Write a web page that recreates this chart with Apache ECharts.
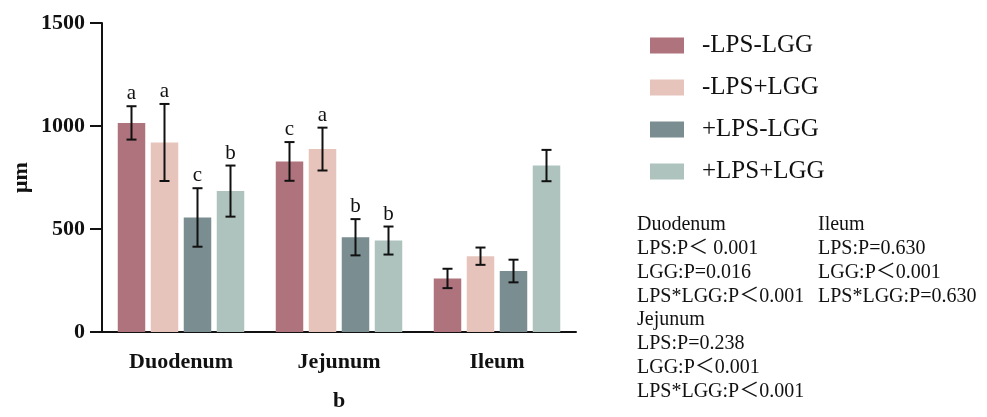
<!DOCTYPE html>
<html>
<head>
    <meta charset="utf-8">
    <title>Villus height</title>
    <script src="https://cdn.jsdelivr.net/npm/echarts@6/dist/echarts.min.js"></script>
    <style>
        html, body { margin: 0; padding: 0; background: #fff; }
        #main { width: 987px; height: 417px; }
    </style>
</head>
<body>
    <div id="main"></div>
    <script type="text/javascript">
        // data
        var categories = ['Duodenum', 'Jejunum', 'Ileum'];
        var groupNames = ['-LPS-LGG', '-LPS+LGG', '+LPS-LGG', '+LPS+LGG'];

        var meanNegLpsNegLgg = [1015, 828, 260];
        var meanNegLpsPosLgg = [920, 888, 368];
        var meanPosLpsNegLgg = [556, 460, 296];
        var meanPosLpsPosLgg = [684, 444, 808];

        var sdNegLpsNegLgg = [81, 94, 47];
        var sdNegLpsPosLgg = [187, 104, 42];
        var sdPosLpsNegLgg = [142, 88, 55];
        var sdPosLpsPosLgg = [124, 68, 76];

        var lettersNegLpsNegLgg = ['a', 'c', ''];
        var lettersNegLpsPosLgg = ['a', 'a', ''];
        var lettersPosLpsNegLgg = ['c', 'b', ''];
        var lettersPosLpsPosLgg = ['b', 'b', ''];

        var yTicks = [0, 500, 1000, 1500];

        var statsLeft = ['Duodenum', 'LPS:P\uFF1C 0.001', 'LGG:P=0.016', 'LPS*LGG:P\uFF1C0.001',
            'Jejunum', 'LPS:P=0.238', 'LGG:P\uFF1C0.001', 'LPS*LGG:P\uFF1C0.001'];
        var statsRight = ['Ileum', 'LPS:P=0.630', 'LGG:P\uFF1C0.001', 'LPS*LGG:P=0.630'];

        var means = [meanNegLpsNegLgg, meanNegLpsPosLgg, meanPosLpsNegLgg, meanPosLpsPosLgg];
        var sds = [sdNegLpsNegLgg, sdNegLpsPosLgg, sdPosLpsNegLgg, sdPosLpsPosLgg];
        var letters = [lettersNegLpsNegLgg, lettersNegLpsPosLgg, lettersPosLpsNegLgg, lettersPosLpsPosLgg];
        var colors = ['#AE737D', '#E6C4BB', '#7A8D90', '#AEC3BD'];

        var FONT = "'Liberation Serif', 'Noto Sans CJK SC', serif";
        var BAR_W = 27.5;
        var BAR_GAP = 0.2;

        var myChart = echarts.init(document.getElementById('main'), null, { renderer: 'canvas' });

        function errorRenderer(k) {
            var offset = (k - 1.5) * BAR_W * (1 + BAR_GAP);
            return function (params, api) {
                var ci = api.value(0);
                var m = api.value(1);
                var s = api.value(2);
                var hi = api.coord([ci, m + s]);
                var lo = api.coord([ci, m - s]);
                var cx = hi[0] + offset;
                var lineStyle = { stroke: '#111', lineWidth: 2 };
                var kids = [
                    { type: 'line', shape: { x1: cx, y1: hi[1], x2: cx, y2: lo[1] }, style: lineStyle },
                    { type: 'line', shape: { x1: cx - 5, y1: hi[1], x2: cx + 5, y2: hi[1] }, style: lineStyle },
                    { type: 'line', shape: { x1: cx - 5, y1: lo[1], x2: cx + 5, y2: lo[1] }, style: lineStyle }
                ];
                var letter = letters[k][params.dataIndex];
                if (letter) {
                    kids.push({
                        type: 'text',
                        style: {
                            text: letter, x: cx, y: hi[1] - 2,
                            align: 'center', verticalAlign: 'bottom',
                            font: '21px ' + FONT, fill: '#111'
                        }
                    });
                }
                return { type: 'group', children: kids };
            };
        }

        var series = [];
        for (var k = 0; k < 4; k++) {
            series.push({
                name: groupNames[k],
                type: 'bar',
                data: means[k],
                barWidth: BAR_W,
                barGap: (BAR_GAP * 100) + '%',
                itemStyle: { color: colors[k] },
                emphasis: { disabled: true }
            });
        }
        for (var k2 = 0; k2 < 4; k2++) {
            var errData = [];
            for (var i = 0; i < categories.length; i++) {
                errData.push([i, means[k2][i], sds[k2][i]]);
            }
            series.push({
                type: 'custom',
                renderItem: errorRenderer(k2),
                data: errData,
                z: 5,
                silent: true
            });
        }

        var option = {
            animation: false,
            backgroundColor: '#fff',
            grid: { left: 102, right: 411, top: 23, bottom: 81 },
            legend: {
                data: groupNames,
                orient: 'vertical',
                left: 645,
                top: 28,
                itemWidth: 34,
                itemHeight: 16,
                itemGap: 17,
                icon: 'rect',
                selectedMode: false,
                textStyle: { fontFamily: FONT, fontSize: 25, color: '#111', padding: [0, 0, 0, 13] }
            },
            xAxis: {
                type: 'category',
                data: categories,
                name: 'b',
                nameLocation: 'middle',
                nameGap: 58,
                nameTextStyle: { fontFamily: FONT, fontSize: 22, fontWeight: 'bold', color: '#111' },
                axisLine: { lineStyle: { color: '#111', width: 2 } },
                axisTick: { alignWithLabel: true, length: 12, lineStyle: { color: '#111', width: 2 } },
                axisLabel: { fontFamily: FONT, fontSize: 22, fontWeight: 'bold', color: '#111', margin: 19 }
            },
            yAxis: {
                type: 'value',
                min: yTicks[0],
                max: yTicks[yTicks.length - 1],
                interval: yTicks[1] - yTicks[0],
                name: '\u03BCm',
                nameLocation: 'middle',
                nameGap: 70,
                nameTextStyle: { fontFamily: FONT, fontSize: 22, fontWeight: 'bold', color: '#111' },
                splitLine: { show: false },
                axisLine: { show: true, lineStyle: { color: '#111', width: 2 } },
                axisTick: { show: true, length: 12, lineStyle: { color: '#111', width: 2 } },
                axisLabel: {
                    fontFamily: FONT, fontSize: 22, fontWeight: 'bold', color: '#111', margin: 17,
                    formatter: function (v) { return String(v); }
                }
            },
            graphic: [
                {
                    type: 'text', left: 637, top: 213,
                    style: { text: statsLeft.join('\n'), font: '20px ' + FONT, lineHeight: 23.8, fill: '#111' }
                },
                {
                    type: 'text', left: 818, top: 213,
                    style: { text: statsRight.join('\n'), font: '20px ' + FONT, lineHeight: 23.8, fill: '#111' }
                }
            ],
            series: series
        };

        myChart.setOption(option);
    </script>
</body>
</html>
